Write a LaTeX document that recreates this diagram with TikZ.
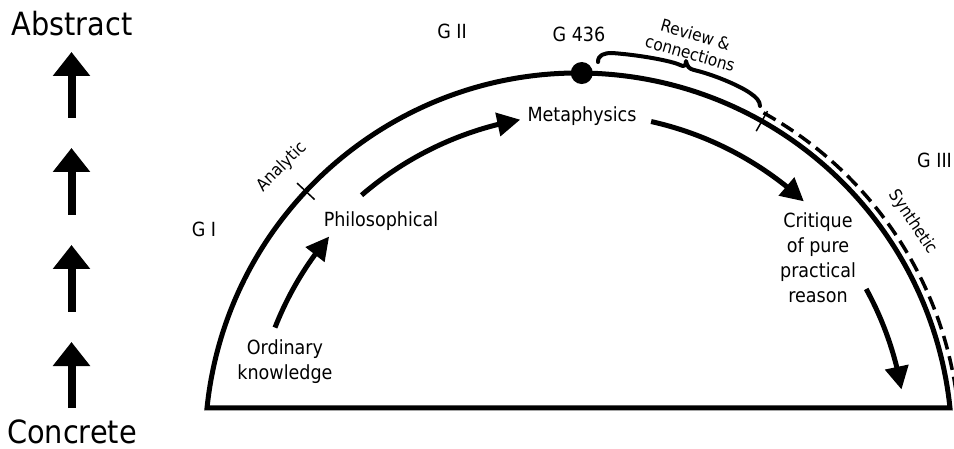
\documentclass[tikz,border=0pt]{standalone}
\usepackage{fontspec}
\setmainfont{DejaVu Sans Condensed}
\usetikzlibrary{arrows.meta,calc,bending}
\begin{document}
\begin{tikzpicture}[x=1pt,y=-1pt,
  lbl/.style={font=\fontsize{19.5}{25}\selectfont, align=center, inner sep=0pt},
  small/.style={font=\fontsize{17}{19.5}\selectfont, align=center, inner sep=0pt},
  big/.style={font=\fontsize{32}{38}\selectfont, inner sep=0pt},
  flow/.style={line width=5pt, -{Triangle[width=23pt,length=23pt]}},
  updir/.style={line width=8pt, -{Triangle[width=36pt,length=24pt]}},
  tickline/.style={line width=1.5pt},
]
\useasboundingbox (0,0) rectangle (954,449);
\clip (0,0) rectangle (954,449);
\fill[white] (0,0) rectangle (954,449);

% left scale
\node[big, anchor=base] (abs) at (72,36) {Abstract};
\node[big, anchor=base] (con) at (72,443) {Concrete};
\foreach \i/\t/\b in {1/52/118, 2/148/215, 3/245/312, 4/342/408}{
  \coordinate (ub\i) at (71.5,\b);
  \coordinate (ut\i) at (71.5,\t);
  \draw[updir] (ub\i) -- (ut\i);
}

% dome
\coordinate (c) at (578.5,446.5);
\coordinate (domeL) at ($(c)+(-174.08:373.5)$);
\draw[line width=5pt, line join=miter] (domeL) arc[start angle=-174.08, end angle=-5.92, radius=373.5] -- cycle;
\coordinate (dashS) at ($(c)+(-61:381.5)$);
\draw[line width=3.5pt, dash pattern=on 14pt off 7pt] (dashS) arc[start angle=-61, end angle=-3, radius=381.5];

% ticks
\coordinate (ta1) at ($(c)+(-136.9:361.5)$);
\coordinate (ta2) at ($(c)+(-136.9:385.5)$);
\draw[tickline] (ta1) -- (ta2);
\coordinate (tb1) at ($(c)+(-60.6:362)$);
\coordinate (tb2) at ($(c)+(-60.6:385)$);
\draw[tickline] (tb1) -- (tb2);

% dot
\node[circle, fill, minimum size=22pt, inner sep=0pt] (dot) at ($(c)+(-89.5:373.5)$) {};

% brace
\draw[line width=4pt, line cap=round, line join=round]
  (598,62) .. controls (598,55) and (604,53) .. (612,53)
  .. controls (640,55) and (672,61) .. (680,65)
  .. controls (684,67) and (686,66) .. (686,61)
  .. controls (687,66) and (689,69) .. (694,70)
  .. controls (715,75) and (740,86) .. (750,93)
  .. controls (756,97) and (760,101) .. (760,106);

% labels
\node[lbl, anchor=base] (g1) at (204,237) {G I};
\node[lbl, anchor=base] (g2) at (452,39) {G II};
\node[lbl, anchor=base] (g436) at (579,42) {G 436};
\node[lbl, anchor=base west] (g3) at (917,168) {G III};
\node[small, rotate=45] (ana) at (282,167) {Analytic};
\node[small, rotate=-56] (syn) at (913,222) {Synthetic};
\node[small, rotate=-16] (rev) at (693,44) {Review \&\\connections};

\node[lbl, anchor=base] (meta) at (582,122) {Metaphysics};
\node[lbl, anchor=base] (phil) at (381,227) {Philosophical};
\node[lbl] (ord) at (285,362) {Ordinary\\knowledge};
\node[lbl] (crit) at (818,258) {Critique\\of pure\\practical\\reason};

% flow arrows
\coordinate (a1s) at ($(c)+(-158.6:326)$);
\draw[flow] (a1s) arc[start angle=-158.6, end angle=-139.9, radius=326];
\coordinate (a2s) at ($(c)+(-130.8:332)$);
\draw[flow] (a2s) arc[start angle=-130.8, end angle=-100.1, radius=332];
\coordinate (a3s) at ($(c)+(-77.4:333)$);
\draw[flow] (a3s) arc[start angle=-77.4, end angle=-47.4, radius=333];
\coordinate (a4s) at ($(c)+(-28.7:328)$);
\draw[flow] (a4s) arc[start angle=-28.7, end angle=-10, radius=328];
\end{tikzpicture}
\end{document}
